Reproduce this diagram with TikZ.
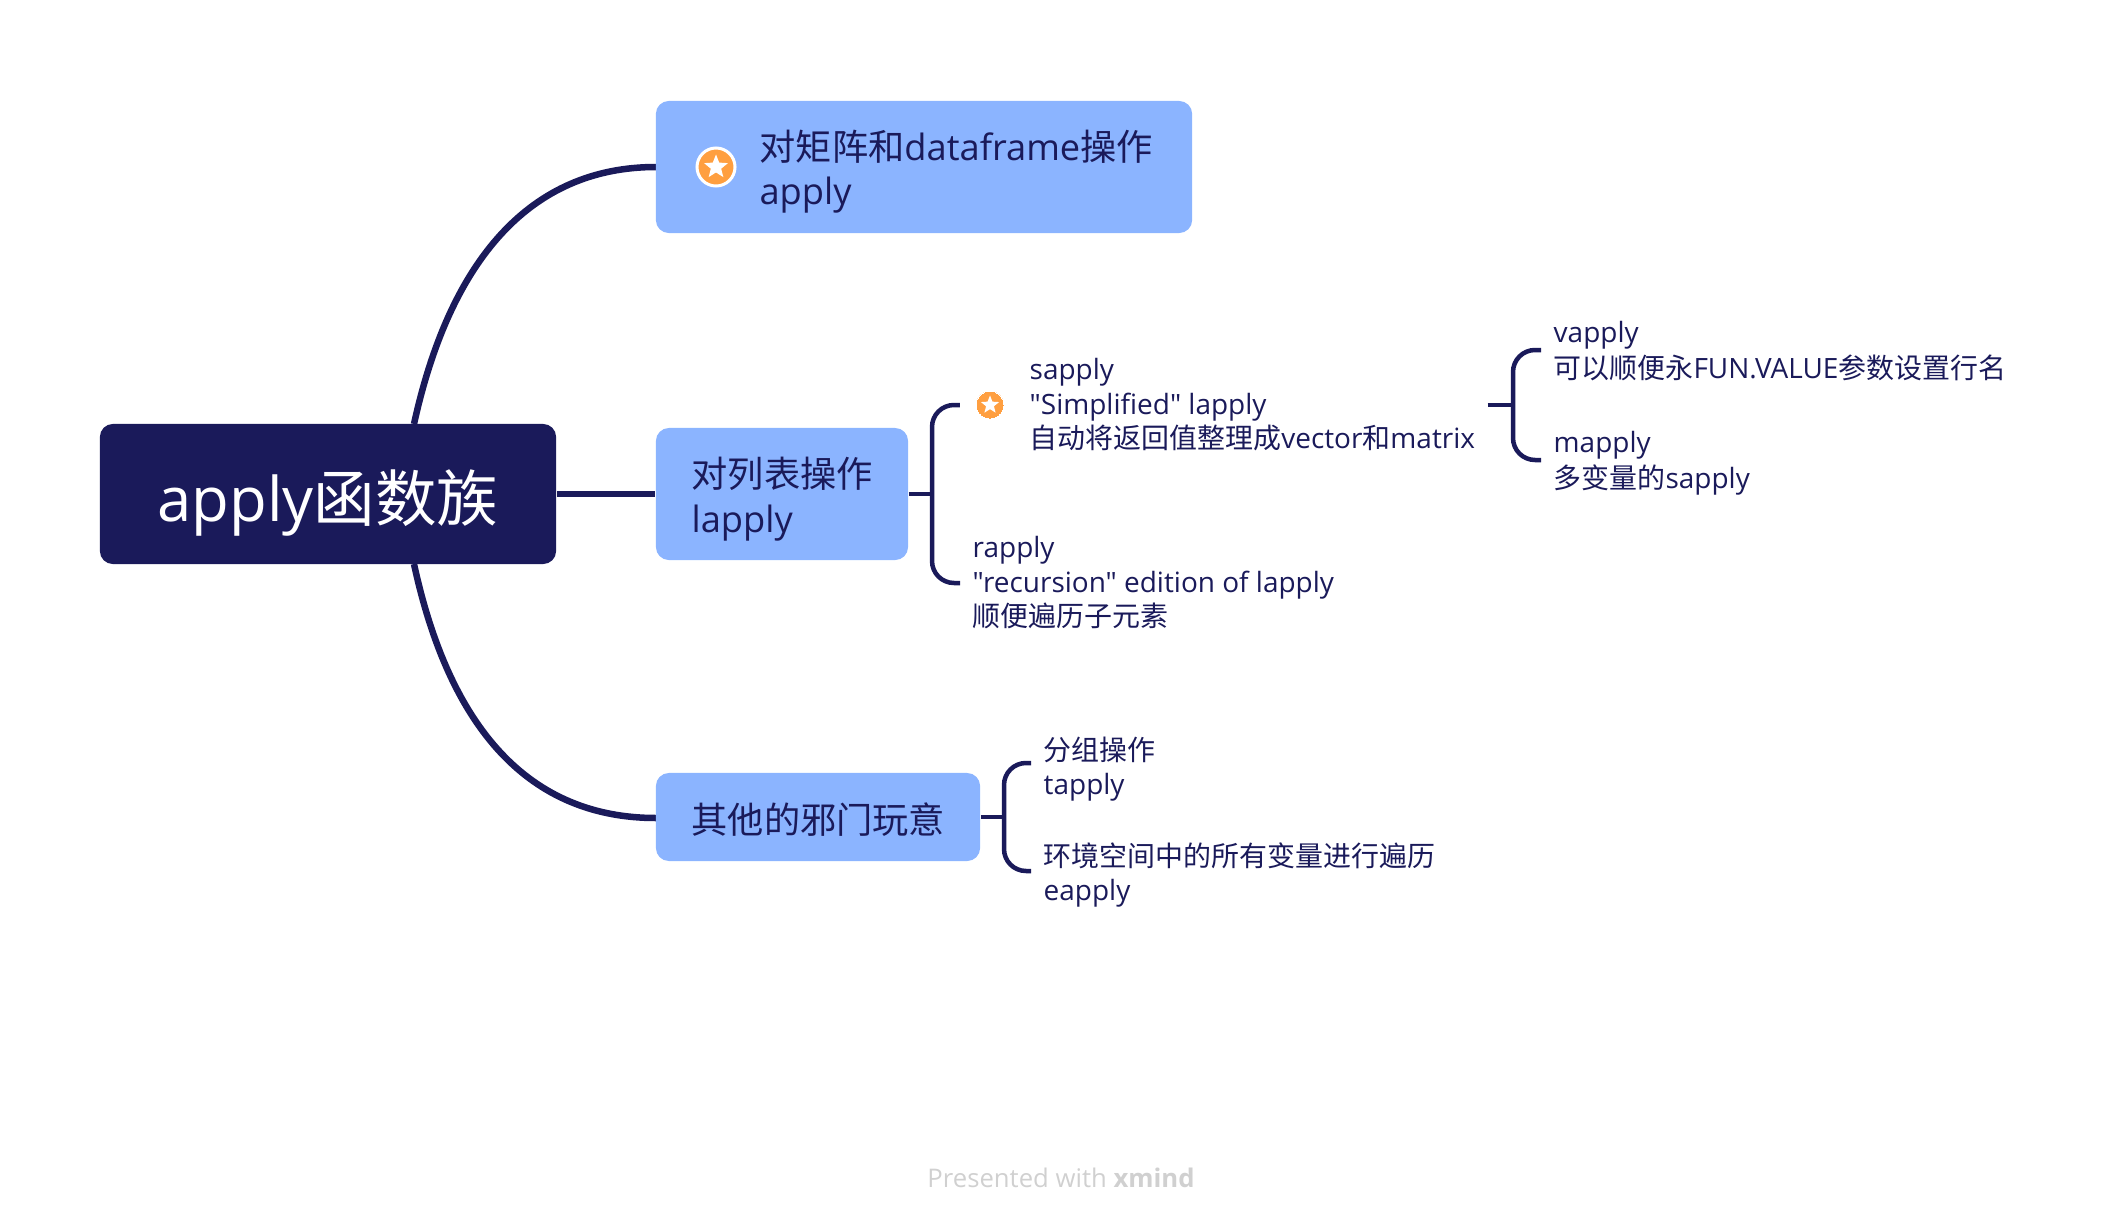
\documentclass[tikz,border=0pt]{standalone}
\usepackage{fontspec}
\setmainfont{Open Sans}[Ligatures=TeXOff]
\newfontfamily\cjk{Noto Sans CJK SC}
\newcommand\zh[1]{{\cjk #1}}
\newcommand\lift[1]{\rule{0pt}{#1}}
\usetikzlibrary{shapes.geometric}
\definecolor{navy}{HTML}{1A1A5A}
\definecolor{skyblue}{HTML}{8BB4FF}
\definecolor{badgeorange}{HTML}{FF9F40}
\definecolor{footgrey}{HTML}{D0D0D0}
\tikzset{
rootbox/.style={fill=navy,text=white,rounded corners=.13cm,minimum width=4.56cm,minimum height=1.4cm,inner sep=0pt,font=\fontsize{17.5}{20}\selectfont},
topicbox/.style={fill=skyblue,text=navy,rounded corners=.13cm,inner xsep=.357cm,inner ysep=0pt,align=left,font=\fontsize{10.3}{12.7}\selectfont},
subtext/.style={text=navy,anchor=west,inner xsep=.12cm,inner ysep=0pt,align=left,font=\fontsize{7.95}{9.8}\selectfont},
badge/.style={circle,fill=badgeorange,draw=white,inner sep=0pt},
starmark/.style={star,star points=5,star point ratio=2.3,fill=white,inner sep=0pt},
branch/.style={navy,line width=.065cm},
stub/.style={navy,line width=.045cm},
bracket/.style={stub,rounded corners=.22cm},
}
\begin{document}
\begin{tikzpicture}[x=.01cm,y=-.01cm]
\useasboundingbox (0,0) rectangle (2124,1230);
\draw[branch] (414,424) .. controls (450,260) and (530,167) .. (656,167);
\draw[branch] (414,564) .. controls (450,730) and (530,818) .. (656,818);
\node[rootbox] (root) at (328,494) {\lift{.7cm}apply\zh{函数族}};
\node[topicbox,text width=4.646cm,minimum height=1.32cm] (t1) at (924,167) {\lift{.4cm}\hspace*{.68cm}\zh{对矩阵和}dataframe\zh{操作}\\\hspace*{.68cm}apply};
\node[topicbox,text width=1.806cm,minimum height=1.32cm] (t2) at (782,494) {\lift{.4cm}\zh{对列表操作}\\lapply};
\node[topicbox,text width=2.526cm,minimum height=.88cm] (t3) at (818,817) {\lift{.36cm}\zh{其他的邪门玩意}};
\draw[branch] (root.east) -- (t2.west);
\node[badge,minimum size=.38cm,line width=.03cm] (b1) at (716,167) {};
\node[starmark,minimum size=.25cm] at (b1) {};
\node[badge,minimum size=.28cm,line width=0pt,outer sep=.16cm] (b2) at (990,405) {};
\node[starmark,minimum size=.19cm] at (b2) {};
\node[subtext] (sapply) at (1017,405) {sapply\\"Simplified" lapply\\\zh{自动将返回值整理成}vector\zh{和}matrix};
\node[subtext] (rapply) at (960,583) {rapply\\"recursion" edition of lapply\\\zh{顺便遍历子元素}};
\node[subtext] (vapply) at (1541,351) {vapply\\[.02cm]\zh{可以顺便永}FUN.VALUE\zh{参数设置行名}};
\node[subtext] (mapply) at (1541,463) {mapply\\[.01cm]\zh{多变量的}sapply};
\node[subtext] (tapply) at (1031,769) {\zh{分组操作}\\tapply};
\node[subtext] (eapply) at (1031,875) {\zh{环境空间中的所有变量进行遍历}\\eapply};
% brackets
\coordinate (j2) at (932,494);
\coordinate (j3) at (1004,817);
\coordinate (j4) at (1513,405);
\draw[stub] (t2.east) -- (j2);
\draw[bracket] (b2.west) -| (j2) |- (rapply.west);
\draw[stub] (t3.east) -- (j3);
\draw[bracket] ([yshift=.06cm]tapply.west) -| (j3) |- ([yshift=.04cm]eapply.west);
\draw[stub] (sapply.east) -- (j4);
\draw[bracket] ([yshift=.01cm]vapply.west) -| (j4) |- ([yshift=.03cm]mapply.west);
\node[text=footgrey,anchor=base,font=\fontsize{7.3}{9}\selectfont] (foot) at (1061,1187) {Presented with \textbf{xmind}};
\end{tikzpicture}
\end{document}
